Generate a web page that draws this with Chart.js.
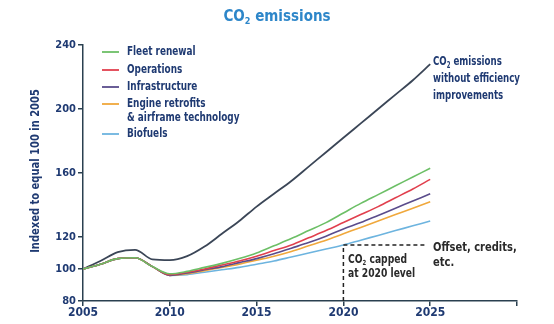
<!DOCTYPE html>
<html>
<head>
<meta charset="utf-8">
<script src="https://cdn.jsdelivr.net/npm/chart.js@4.4.1/dist/chart.umd.min.js"></script>
<style>
html,body{margin:0;padding:0;background:#fff;}
#wrap{width:554px;height:324px;position:relative;}
</style>
</head>
<body>
<div id="wrap"><canvas id="c" width="554" height="324"></canvas></div>
<script>
const years = [2005,2006,2007,2008,2009,2010,2011,2012,2013,2014,2015,2016,2017,2018,2019,2020,2021,2022,2023,2024,2025];
const baseline = [100,105,110.5,112,106,105.5,108,114,122,130,139,147,155,164,173,182,191,200,209,218,228];
const fleetRenewal = [100,103,106.5,107,101.5,97,98.5,101,103.5,106.5,110,114.5,119,124,129,135,141,146.5,152,157.5,163];
const operations = [100,103,106.5,107,101.5,96.5,98,100,102.5,105,108,111.5,115,119.5,124,129,134,139,144.5,150,156];
const infrastructure = [100,103,106.5,107,101.5,96,97.5,99.5,101.5,104,106.5,109.5,113,116.5,120.5,125,129,133.5,138,142.5,147];
const engineRetrofits = [100,103,106.5,107,101.5,96,97,99,101,103,105.5,108,111,114.5,118,122,126,130,134,138,142];
const biofuels = [100,103,106.5,107,101.5,96,96.5,98,99.5,101,103,105,107.5,110,112.5,115,118,121,124,127,130];
const yTicks = [80,100,120,160,200,240];
const xTicks = [2005,2010,2015,2020,2025,2030];
const legendLabels = [["Fleet renewal"],["Operations"],["Infrastructure"],["Engine retrofits","& airframe technology"],["Biofuels"]];
const capYear = 2020;

const NAVY = '#1f3a72';
const FONT = "'DejaVu Sans Condensed','Liberation Sans Narrow','Arial Narrow',sans-serif";
const colors = {base:'#3b4657', green:'#6cbf66', red:'#e1404e', purple:'#5a4c8c', orange:'#f0a83c', blue:'#6db4df'};

function pts(vals){ return years.map((y,i)=>({x:y,y:vals[i]})); }
function ds(label, vals, color, w){
  return {label, data:pts(vals), borderColor:color, backgroundColor:color, borderWidth:w, pointRadius:0, cubicInterpolationMode:'monotone', fill:false};
}

const legendColors = [colors.green, colors.red, colors.purple, colors.orange, colors.blue];

function drawRich(ctx, parts, x, y, size, color, align, sx){
  sx = sx || 1;
  ctx.save();
  ctx.translate(x, y);
  ctx.scale(sx, 1);
  ctx.fillStyle = color;
  ctx.textBaseline = 'middle';
  ctx.textAlign = 'left';
  const widths = parts.map(p=>{ ctx.font = `bold ${p[1]?Math.round(size*0.6):size}px ${FONT}`; return ctx.measureText(p[0]).width; });
  const total = widths.reduce((a,b)=>a+b,0);
  let cx = align==='center' ? -total/2 : 0;
  parts.forEach((p,i)=>{
    ctx.font = `bold ${p[1]?Math.round(size*0.6):size}px ${FONT}`;
    ctx.fillText(p[0], cx, p[1] ? size*0.3 : 0);
    cx += widths[i];
  });
  ctx.restore();
}

const textPlugin = {
  id:'texts',
  afterDraw(chart){
    const ctx = chart.ctx;
    const xs = chart.scales.x, ys = chart.scales.y;
    // title
    drawRich(ctx, [["CO",false],["2",true],[" emissions",false]], 277, 17, 15, '#2d86c9', 'center', 1);
    // y axis title
    ctx.save();
    ctx.translate(36, 171);
    ctx.rotate(-Math.PI/2);
    ctx.font = `bold 13px ${FONT}`;
    ctx.scale(0.85, 1);
    ctx.fillStyle = NAVY;
    ctx.textAlign = 'center';
    ctx.textBaseline = 'middle';
    ctx.fillText('Indexed to equal 100 in 2005', 0, 0);
    ctx.restore();
    // legend
    const rows = [52, 70, 87, 104, 134];
    legendLabels.forEach((lines,i)=>{
      ctx.save();
      ctx.strokeStyle = legendColors[i];
      ctx.lineWidth = 1.8;
      ctx.beginPath(); ctx.moveTo(102, rows[i]); ctx.lineTo(119, rows[i]); ctx.stroke();
      ctx.restore();
      lines.forEach((t,j)=>drawRich(ctx, [[t,false]], 127, rows[i] + j*14, 13, NAVY, 'left', 0.76));
    });
    // right annotation
    drawRich(ctx, [["CO",false],["2",true],[" emissions",false]], 433, 62, 13, NAVY, 'left', 0.74);
    drawRich(ctx, [["without efficiency",false]], 433, 79, 13, NAVY, 'left', 0.74);
    drawRich(ctx, [["improvements",false]], 433, 96, 13, NAVY, 'left', 0.74);
    // cap dashed lines
    const capVal = biofuels[years.indexOf(capYear)];
    const px = xs.getPixelForValue(capYear);
    const py = ys.getPixelForValue(capVal);
    ctx.save();
    ctx.strokeStyle = '#222';
    ctx.lineWidth = 1.5;
    ctx.setLineDash([4,3]);
    ctx.beginPath();
    ctx.moveTo(px, ys.bottom); ctx.lineTo(px, py); ctx.lineTo(xs.getPixelForValue(2024.7), py);
    ctx.stroke();
    ctx.restore();
    drawRich(ctx, [["Offset, credits,",false]], 433, py+3, 13, '#2a2a2a', 'left', 0.85);
    drawRich(ctx, [["etc.",false]], 433, py+18, 13, '#2a2a2a', 'left', 0.85);
    drawRich(ctx, [["CO",false],["2",true],[" capped",false]], 348, py+15, 12, '#2a2a2a', 'left', 0.85);
    drawRich(ctx, [["at 2020 level",false]], 348, py+29, 12, '#2a2a2a', 'left', 0.85);
  }
};

new Chart(document.getElementById('c'), {
  type:'line',
  data:{
    datasets:[
      ds('Fleet renewal', fleetRenewal, colors.green, 1.6),
      ds('Operations', operations, colors.red, 1.6),
      ds('Infrastructure', infrastructure, colors.purple, 1.6),
      ds('Engine retrofits & airframe technology', engineRetrofits, colors.orange, 1.6),
      ds('Biofuels', biofuels, colors.blue, 1.6),
      ds('CO2 emissions without efficiency improvements', baseline, colors.base, 1.8)
    ]
  },
  options:{
    responsive:false,
    animation:false,
    events:[],
    layout:{padding:{left:0,right:37,top:45,bottom:0}},
    plugins:{legend:{display:false},tooltip:{enabled:false},title:{display:false}},
    scales:{
      x:{
        type:'linear', min:2005, max:2030,
        afterBuildTicks(s){ s.ticks = xTicks.map(v=>({value:v})); },
        afterFit(s){ s.height = 23; },
        grid:{display:true, drawOnChartArea:false, drawTicks:true, tickLength:5, color:'#2a4050', lineWidth:1.5},
        border:{display:true, color:'#2a4050', width:1.5},
        ticks:{color:NAVY, font:{family:FONT, size:12, weight:'bold'}, padding:0, maxRotation:0, autoSkip:false,
          callback:(v)=> v===2030 ? '' : String(v)}
      },
      y:{
        min:80, max:240,
        afterBuildTicks(s){ s.ticks = yTicks.map(v=>({value:v})); },
        afterFit(s){ s.width = 83; },
        grid:{display:true, drawOnChartArea:false, drawTicks:true, tickLength:5, color:'#2a4050', lineWidth:1.5},
        border:{display:true, color:'#2a4050', width:1.5},
        ticks:{color:NAVY, font:{family:FONT, size:11, weight:'bold'}, padding:2, autoSkip:false}
      }
    }
  },
  plugins:[textPlugin]
});
</script>
</body>
</html>
